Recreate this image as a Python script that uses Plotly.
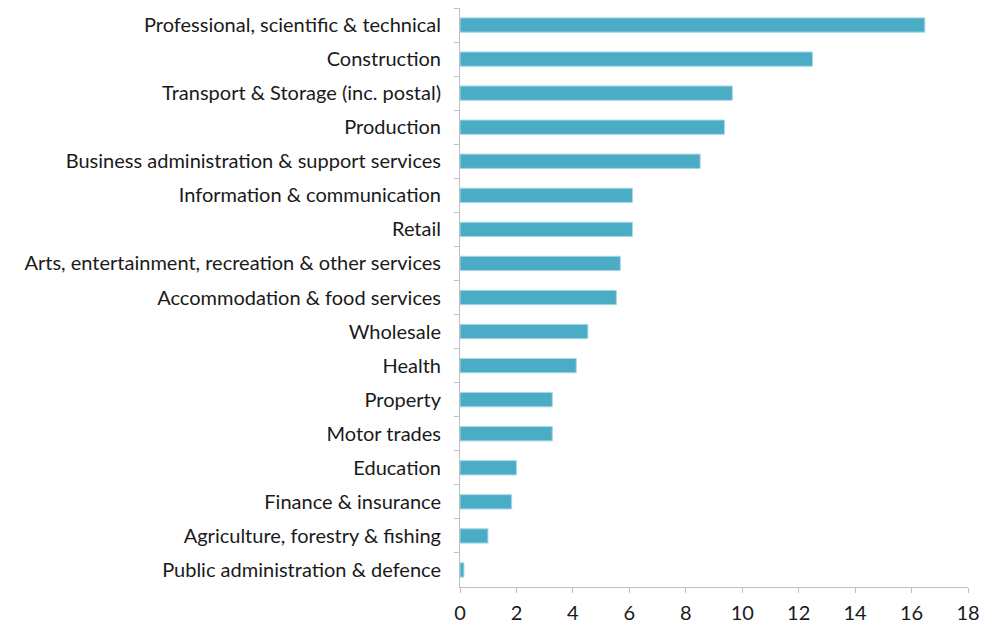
import plotly.graph_objects as go

sectors = [
    "Professional, scientific & technical",
    "Construction",
    "Transport & Storage (inc. postal)",
    "Production",
    "Business administration & support services",
    "Information & communication",
    "Retail",
    "Arts, entertainment, recreation & other services",
    "Accommodation & food services",
    "Wholesale",
    "Health",
    "Property",
    "Motor trades",
    "Education",
    "Finance & insurance",
    "Agriculture, forestry & fishing",
    "Public administration & defence",
]
values = [16.47, 12.49, 9.65, 9.37, 8.51, 6.11, 6.11, 5.68, 5.54,
          4.53, 4.12, 3.27, 3.27, 2.0, 1.83, 0.99, 0.14]
x_ticks = list(range(0, 19, 2))

BAR = "#4bacc6"
AXIS = "#bfbfbf"
FONT = dict(family="Lato, Open Sans, sans-serif", size=20, color="#1a1a1a")

fig = go.Figure()
fig.add_trace(go.Bar(
    x=values, y=sectors, orientation="h",
    marker=dict(color=BAR, line=dict(color="#a8d8e6", width=1)),
))

# page body adds ~8px offset, so margins are shifted to compensate
fig.update_layout(
    width=1004, height=627,
    paper_bgcolor="white", plot_bgcolor="white",
    font=FONT,
    showlegend=False,
    bargap=0.58,
    margin=dict(l=452, r=44, t=0, b=48, autoexpand=False),
)
fig.update_xaxes(
    range=[0, 18], tickvals=x_ticks, showgrid=False, zeroline=False,
    showline=True, linecolor=AXIS, linewidth=1,
    ticks="outside", ticklen=5, tickcolor=AXIS,
    ticklabelstandoff=3,
)
fig.update_yaxes(
    autorange="reversed", showgrid=False, zeroline=False,
    showline=True, linecolor=AXIS, linewidth=1,
    ticks="outside", ticklen=5, tickcolor=AXIS, tickson="boundaries",
    ticklabelstandoff=14,
)

fig.write_html("out.html")
